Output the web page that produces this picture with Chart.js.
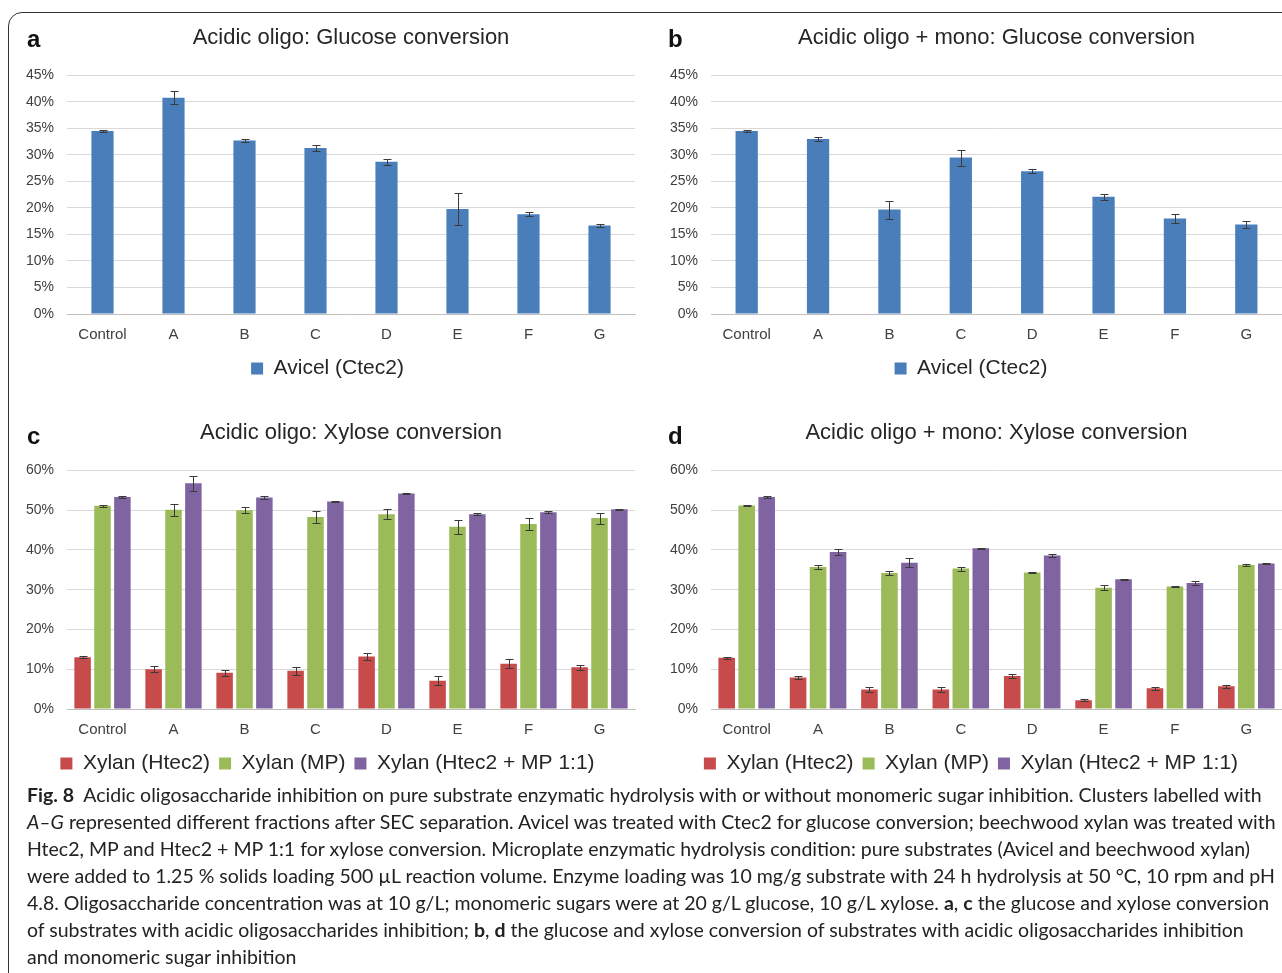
<!DOCTYPE html>
<html lang="en">
<head>
<meta charset="UTF-8">
<title>Fig. 8 Acidic oligosaccharide inhibition</title>
<script src="https://cdn.jsdelivr.net/npm/chart.js"></script>
<style>
    body { margin: 0; width: 1282px; height: 973px; overflow: hidden; background: #fff; position: relative; font-family: 'Liberation Sans', Arial, sans-serif; }
    .frame { position: absolute; left: 8px; top: 12px; width: 1300px; height: 1000px; border: 1.5px solid #333; border-radius: 14px; }
    .panel { position: absolute; }
    .letter { position: absolute; font: bold 24px 'Liberation Sans', Arial, sans-serif; color: #111; }
    .caption { position: absolute; left: 27px; top: 781px; font-family: Lato, 'Open Sans', sans-serif; font-size: 19.5px; line-height: 27px; color: #222; white-space: nowrap; }
    .caption b { font-weight: 700; }
</style>
</head>
<body>
<div class="frame"></div>

<canvas id="chartA" class="panel" width="630" height="370" style="left:20px;top:20px"></canvas>
<canvas id="chartB" class="panel" width="622" height="370" style="left:660px;top:20px"></canvas>
<canvas id="chartC" class="panel" width="630" height="370" style="left:20px;top:415px"></canvas>
<canvas id="chartD" class="panel" width="622" height="370" style="left:660px;top:415px"></canvas>

<div class="letter" style="left:27px;top:25px">a</div>
<div class="letter" style="left:668px;top:25px">b</div>
<div class="letter" style="left:27px;top:422px">c</div>
<div class="letter" style="left:668px;top:422px">d</div>

<div class="caption">
    <div><b>Fig. 8</b>&nbsp;&nbsp;Acidic oligosaccharide inhibition on pure substrate enzymatic hydrolysis with or without monomeric sugar inhibition. Clusters labelled with</div>
    <div><i>A–G</i> represented different fractions after SEC separation. Avicel was treated with Ctec2 for glucose conversion; beechwood xylan was treated with</div>
    <div>Htec2, MP and Htec2 + MP 1:1 for xylose conversion. Microplate enzymatic hydrolysis condition: pure substrates (Avicel and beechwood xylan)</div>
    <div>were added to 1.25 % solids loading 500 µL reaction volume. Enzyme loading was 10 mg/g substrate with 24 h hydrolysis at 50 °C, 10 rpm and pH</div>
    <div>4.8. Oligosaccharide concentration was at 10 g/L; monomeric sugars were at 20 g/L glucose, 10 g/L xylose. <b>a</b>, <b>c</b> the glucose and xylose conversion</div>
    <div>of substrates with acidic oligosaccharides inhibition; <b>b</b>, <b>d</b> the glucose and xylose conversion of substrates with acidic oligosaccharides inhibition</div>
    <div>and monomeric sugar inhibition</div>
</div>

<script>
    // categories + values (percent)
    const categories = ['Control', 'A', 'B', 'C', 'D', 'E', 'F', 'G'];

    const glucoseTicks = [0, 5, 10, 15, 20, 25, 30, 35, 40, 45];
    const xyloseTicks = [0, 10, 20, 30, 40, 50, 60];

    // a: acidic oligo, glucose
    const avicelOligo = [34.5, 40.8, 32.7, 31.3, 28.7, 19.8, 18.8, 16.7];
    const avicelOligoErr = [0.2, 1.2, 0.3, 0.6, 0.6, 3.1, 0.4, 0.2];
    // b: acidic oligo + mono, glucose
    const avicelMono = [34.5, 33.0, 19.7, 29.5, 26.9, 22.1, 18.0, 16.9];
    const avicelMonoErr = [0.2, 0.3, 1.7, 1.5, 0.4, 0.6, 0.8, 0.6];

    // c: acidic oligo, xylose
    const htec2Oligo = [13.0, 10.0, 9.1, 9.6, 13.2, 7.1, 11.4, 10.5];
    const htec2OligoErr = [0.3, 0.8, 0.8, 1.0, 0.8, 1.1, 1.1, 0.6];
    const mpOligo = [51.1, 50.1, 50.0, 48.3, 49.0, 45.8, 46.5, 48.0];
    const mpOligoErr = [0.2, 1.5, 0.7, 1.5, 1.3, 1.8, 1.5, 1.4];
    const mixOligo = [53.3, 56.8, 53.2, 52.2, 54.2, 49.0, 49.5, 50.2];
    const mixOligoErr = [0.2, 1.9, 0.3, 0.1, 0.2, 0.2, 0.2, 0.2];

    // d: acidic oligo + mono, xylose
    const htec2Mono = [12.9, 7.9, 4.9, 4.9, 8.3, 2.2, 5.2, 5.7];
    const htec2MonoErr = [0.3, 0.3, 0.6, 0.6, 0.5, 0.3, 0.3, 0.4];
    const mpMono = [51.2, 35.7, 34.2, 35.3, 34.3, 30.5, 30.8, 36.2];
    const mpMonoErr = [0.2, 0.6, 0.5, 0.5, 0.2, 0.6, 0.2, 0.2];
    const mixMono = [53.3, 39.5, 36.8, 40.4, 38.6, 32.6, 31.7, 36.6];
    const mixMonoErr = [0.2, 0.8, 1.1, 0.1, 0.4, 0.2, 0.6, 0.2];

    const BLUE = '#4a7ebb', RED = '#c64b4a', GREEN = '#9bbb59', PURPLE = '#8064a2';
    const TEXT = '#404040';

    // draws +/- error bars on top of the bars using the chart's own y scale
    const errorBars = {
        id: 'errorBars',
        afterDatasetsDraw(chart) {
            const ctx = chart.ctx;
            const y = chart.scales.y;
            ctx.save();
            ctx.strokeStyle = '#3a3a3a';
            ctx.lineWidth = 1;
            chart.data.datasets.forEach((ds, i) => {
                const meta = chart.getDatasetMeta(i);
                meta.data.forEach((bar, j) => {
                    const v = ds.data[j], e = ds.errors[j];
                    const top = Math.round(y.getPixelForValue(v + e)) + 0.5;
                    const bot = Math.round(y.getPixelForValue(v - e)) + 0.5;
                    const x = Math.round(bar.x) + 0.5;
                    ctx.beginPath();
                    ctx.moveTo(x, top); ctx.lineTo(x, bot);
                    ctx.moveTo(x - 4, top); ctx.lineTo(x + 4, top);
                    ctx.moveTo(x - 4, bot); ctx.lineTo(x + 4, bot);
                    ctx.stroke();
                });
            });
            ctx.restore();
        }
    };

    function makeChart(id, title, datasets, ticks, yWidth, padRight, catPct, barPct) {
        const max = ticks[ticks.length - 1];
        const step = ticks[1] - ticks[0];
        return new Chart(document.getElementById(id), {
            type: 'bar',
            data: { labels: categories, datasets: datasets },
            plugins: [errorBars],
            options: {
                responsive: false,
                animation: false,
                devicePixelRatio: 1,
                layout: { padding: { top: 0, right: padRight, bottom: 1, left: 0 } },
                datasets: { bar: { categoryPercentage: catPct, barPercentage: barPct } },
                scales: {
                    x: {
                        grid: { display: false, drawTicks: false },
                        border: { color: '#bfbfbf' },
                        ticks: { color: TEXT, font: { size: 15, family: 'Liberation Sans' }, padding: 12 },
                        afterFit(s) { s.height = 35; }
                    },
                    y: {
                        min: 0, max: max,
                        grid: { color: '#d9d9d9', drawTicks: false },
                        border: { display: false },
                        ticks: {
                            stepSize: step,
                            color: TEXT,
                            font: { size: 14, family: 'Liberation Sans' },
                            padding: 13,
                            callback: v => v + '%'
                        },
                        afterFit(s) { s.width = yWidth; }
                    }
                },
                plugins: {
                    title: {
                        display: true, text: title, fullSize: false,
                        color: '#262626',
                        font: { size: 22, weight: 'normal', family: 'Liberation Sans' },
                        padding: { top: 5, bottom: 24 }
                    },
                    legend: {
                        position: 'bottom',
                        labels: {
                            color: '#262626',
                            font: { size: 21, family: 'Liberation Sans' },
                            boxWidth: 12, boxHeight: 12, padding: 9
                        }
                    },
                    tooltip: { enabled: false }
                }
            }
        });
    }

    function ds(label, data, errors, color) {
        return { label: label, data: data, errors: errors, backgroundColor: color, borderWidth: 0 };
    }

    makeChart('chartA', 'Acidic oligo: Glucose conversion',
        [ds('Avicel (Ctec2)', avicelOligo, avicelOligoErr, BLUE)], glucoseTicks, 47, 15, 0.8, 0.39);
    makeChart('chartB', 'Acidic oligo + mono: Glucose conversion',
        [ds('Avicel (Ctec2)', avicelMono, avicelMonoErr, BLUE)], glucoseTicks, 51, 0, 0.8, 0.39);
    makeChart('chartC', 'Acidic oligo: Xylose conversion', [
        ds('Xylan (Htec2)', htec2Oligo, htec2OligoErr, RED),
        ds('Xylan (MP)', mpOligo, mpOligoErr, GREEN),
        ds('Xylan (Htec2 + MP 1:1)', mixOligo, mixOligoErr, PURPLE)
    ], xyloseTicks, 47, 15, 0.84, 0.83);
    makeChart('chartD', 'Acidic oligo + mono: Xylose conversion', [
        ds('Xylan (Htec2)', htec2Mono, htec2MonoErr, RED),
        ds('Xylan (MP)', mpMono, mpMonoErr, GREEN),
        ds('Xylan (Htec2 + MP 1:1)', mixMono, mixMonoErr, PURPLE)
    ], xyloseTicks, 51, 0, 0.84, 0.83);
</script>
</body>
</html>
